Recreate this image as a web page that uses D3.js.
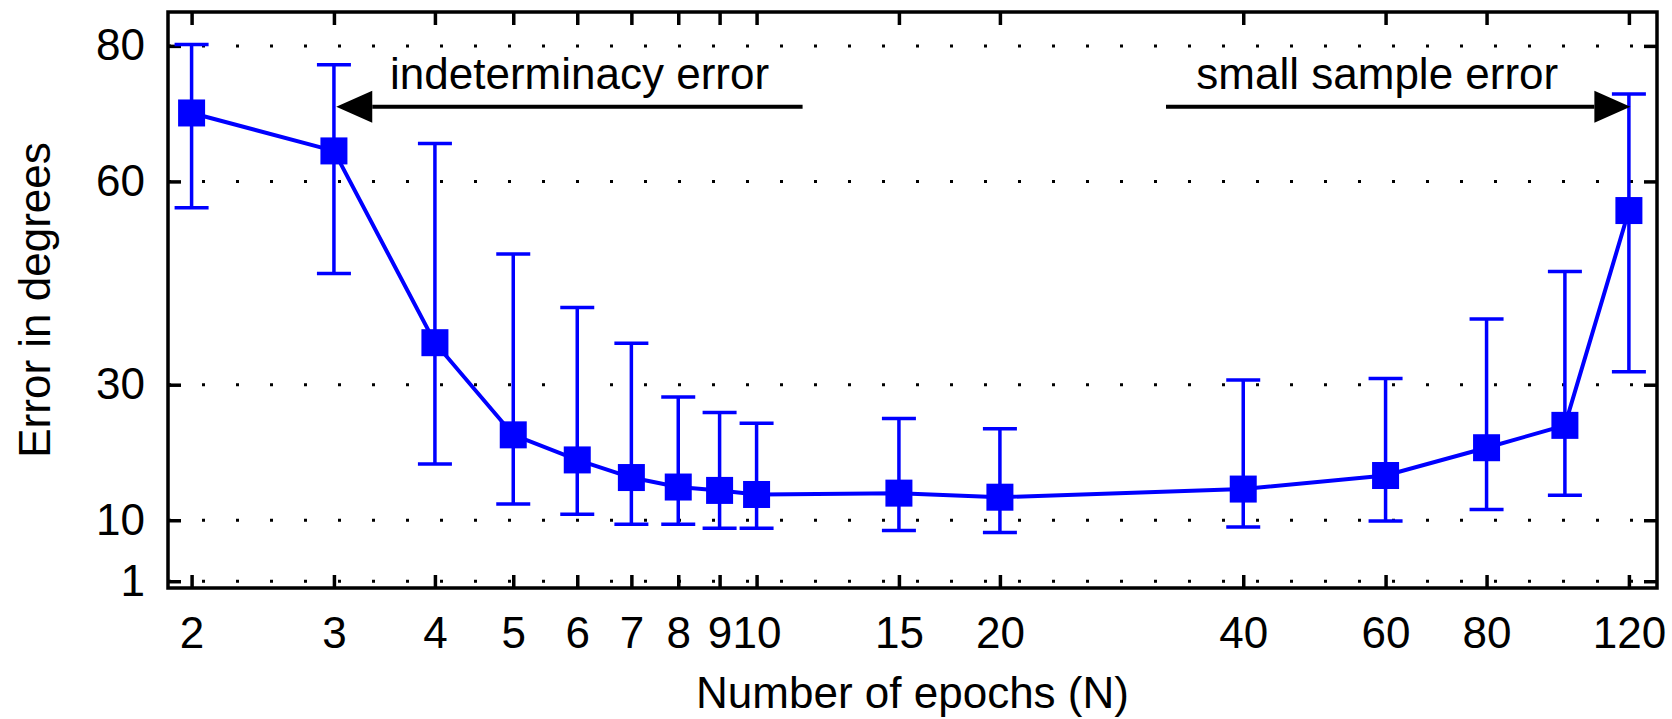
<!DOCTYPE html>
<html>
<head>
<meta charset="utf-8">
<script src="https://cdn.jsdelivr.net/npm/d3@7"></script>
<style>
  html, body { margin: 0; padding: 0; background: #fff; }
  svg { display: block; font-family: "Liberation Sans", Arial, Helvetica, sans-serif; }
</style>
</head>
<body>
<svg id="chart" width="1672" height="719"></svg>
<script>
// Number of training epochs and the angular error statistics for each
const epochs     = [2, 3, 4, 5, 6, 7, 8, 9, 10, 15, 20, 40, 60, 80, 100, 120];
const errorMean  = [70.1, 64.5, 36.2, 22.6, 18.9, 16.3, 14.9, 14.4, 13.8, 14.0, 13.4, 14.6, 16.6, 20.7, 24.0, 55.7];
const errorUpper = [80.2, 77.2, 65.6, 49.3, 41.4, 36.1, 28.2, 25.9, 24.3, 25.0, 23.5, 30.7, 30.9, 39.7, 46.7, 72.9];
const errorLower = [56.1, 46.4, 18.3, 12.4, 10.9, 9.4, 9.4, 8.8, 8.8, 8.5, 8.2, 9.0, 9.9, 11.6, 13.7, 31.9];

// Axis ticks
const xTicks = [2, 3, 4, 5, 6, 7, 8, 9, 10, 15, 20, 40, 60, 80, 120];
const yTicks = [1, 10, 30, 60, 80];

// Annotated regimes: label anchor (epochs, degrees) and arrow from tail to tip
const regimeLabels = ["indeterminacy error", "small sample error"];
const regimeLabelX = [3.52, 35.0];
const regimeLabelY = [73.7, 73.7];
const arrowTail    = [11.4, 32.1];
const arrowTip     = [3.02, 120.5];
const arrowLevel   = [71.0, 71.0];

(function draw() {
  const svg = d3.select("#chart");
  const plotLeft = 168, plotRight = 1657, plotTop = 12, plotBottom = 588;
  const blue = "#0000ff";
  const fontSize = 44;
  const fontFamily = "\"Liberation Sans\", Arial, Helvetica, sans-serif";

  const x = d3.scaleLog().domain([1.87, 130]).range([plotLeft, plotRight]);
  const y = d3.scaleLinear().domain([0, 85]).range([plotBottom, plotTop]);

  svg.append("rect").attr("width", 1672).attr("height", 719).attr("fill", "#fff");

  // Dotted horizontal grid at each y tick
  svg.append("g").selectAll("line").data(yTicks).join("line")
    .attr("x1", plotLeft).attr("x2", plotRight)
    .attr("y1", d => y(d)).attr("y2", d => y(d))
    .attr("stroke", "#000").attr("stroke-width", 3)
    .attr("stroke-dasharray", "3 31");

  // Axes with inward ticks on all four sides
  function styleAxis(g) {
    g.select(".domain").remove();
    g.selectAll(".tick line").attr("stroke", "#000").attr("stroke-width", 3.5);
    g.selectAll(".tick text").attr("fill", "#000").attr("font-size", fontSize)
      .attr("font-family", fontFamily);
  }
  const fmt = d3.format("d");
  svg.append("g").attr("transform", `translate(0,${plotBottom})`)
    .call(d3.axisBottom(x).tickValues(xTicks).tickFormat(fmt).tickSize(-13).tickSizeOuter(0).tickPadding(29))
    .call(styleAxis);
  svg.append("g").attr("transform", `translate(0,${plotTop})`)
    .call(d3.axisTop(x).tickValues(xTicks).tickFormat("").tickSize(-13).tickSizeOuter(0))
    .call(styleAxis);
  svg.append("g").attr("transform", `translate(${plotLeft},0)`)
    .call(d3.axisLeft(y).tickValues(yTicks).tickFormat(fmt).tickSize(-13).tickSizeOuter(0).tickPadding(23))
    .call(styleAxis);
  svg.append("g").attr("transform", `translate(${plotRight},0)`)
    .call(d3.axisRight(y).tickValues(yTicks).tickFormat("").tickSize(-13).tickSizeOuter(0))
    .call(styleAxis);

  // Plot frame
  svg.append("rect")
    .attr("x", plotLeft).attr("y", plotTop)
    .attr("width", plotRight - plotLeft).attr("height", plotBottom - plotTop)
    .attr("fill", "none").attr("stroke", "#000").attr("stroke-width", 3.5);

  // Series data
  const rows = epochs.map((n, i) => ({ n, mean: errorMean[i], hi: errorUpper[i], lo: errorLower[i] }));

  // Error bars
  const capHalf = 17;
  const bars = svg.append("g").attr("stroke", blue).attr("stroke-width", 3.5);
  bars.selectAll("line.v").data(rows).join("line").attr("class", "v")
    .attr("x1", d => x(d.n)).attr("x2", d => x(d.n))
    .attr("y1", d => y(d.hi)).attr("y2", d => y(d.lo));
  bars.selectAll("line.t").data(rows).join("line").attr("class", "t")
    .attr("x1", d => x(d.n) - capHalf).attr("x2", d => x(d.n) + capHalf)
    .attr("y1", d => y(d.hi)).attr("y2", d => y(d.hi));
  bars.selectAll("line.b").data(rows).join("line").attr("class", "b")
    .attr("x1", d => x(d.n) - capHalf).attr("x2", d => x(d.n) + capHalf)
    .attr("y1", d => y(d.lo)).attr("y2", d => y(d.lo));

  // Mean error line
  svg.append("path").datum(rows)
    .attr("fill", "none").attr("stroke", blue).attr("stroke-width", 4)
    .attr("d", d3.line().x(d => x(d.n)).y(d => y(d.mean)));

  // Square markers
  const sq = 27;
  svg.append("g").selectAll("rect").data(rows).join("rect")
    .attr("x", d => x(d.n) - sq / 2).attr("y", d => y(d.mean) - sq / 2)
    .attr("width", sq).attr("height", sq).attr("fill", blue);

  // Regime annotations with arrows
  const headLen = 36, headHalf = 16;
  regimeLabels.forEach((label, i) => {
    const tx = x(arrowTip[i]), sx = x(arrowTail[i]), ay = y(arrowLevel[i]);
    const dir = Math.sign(tx - sx);
    svg.append("line")
      .attr("x1", sx).attr("x2", tx - dir * headLen)
      .attr("y1", ay).attr("y2", ay)
      .attr("stroke", "#000").attr("stroke-width", 4);
    svg.append("path")
      .attr("d", `M${tx},${ay} L${tx - dir * headLen},${ay - headHalf} L${tx - dir * headLen},${ay + headHalf} Z`)
      .attr("fill", "#000");
    svg.append("text")
      .attr("x", x(regimeLabelX[i])).attr("y", y(regimeLabelY[i]))
      .attr("font-size", fontSize).attr("fill", "#000")
      .text(label);
  });

  // Axis titles
  svg.append("text")
    .attr("x", (plotLeft + plotRight) / 2).attr("y", 708)
    .attr("text-anchor", "middle").attr("font-size", fontSize)
    .text("Number of epochs (N)");
  svg.append("text")
    .attr("transform", `translate(50,${(plotTop + plotBottom) / 2}) rotate(-90)`)
    .attr("text-anchor", "middle").attr("font-size", fontSize)
    .text("Error in degrees");
})();
</script>
</body>
</html>
